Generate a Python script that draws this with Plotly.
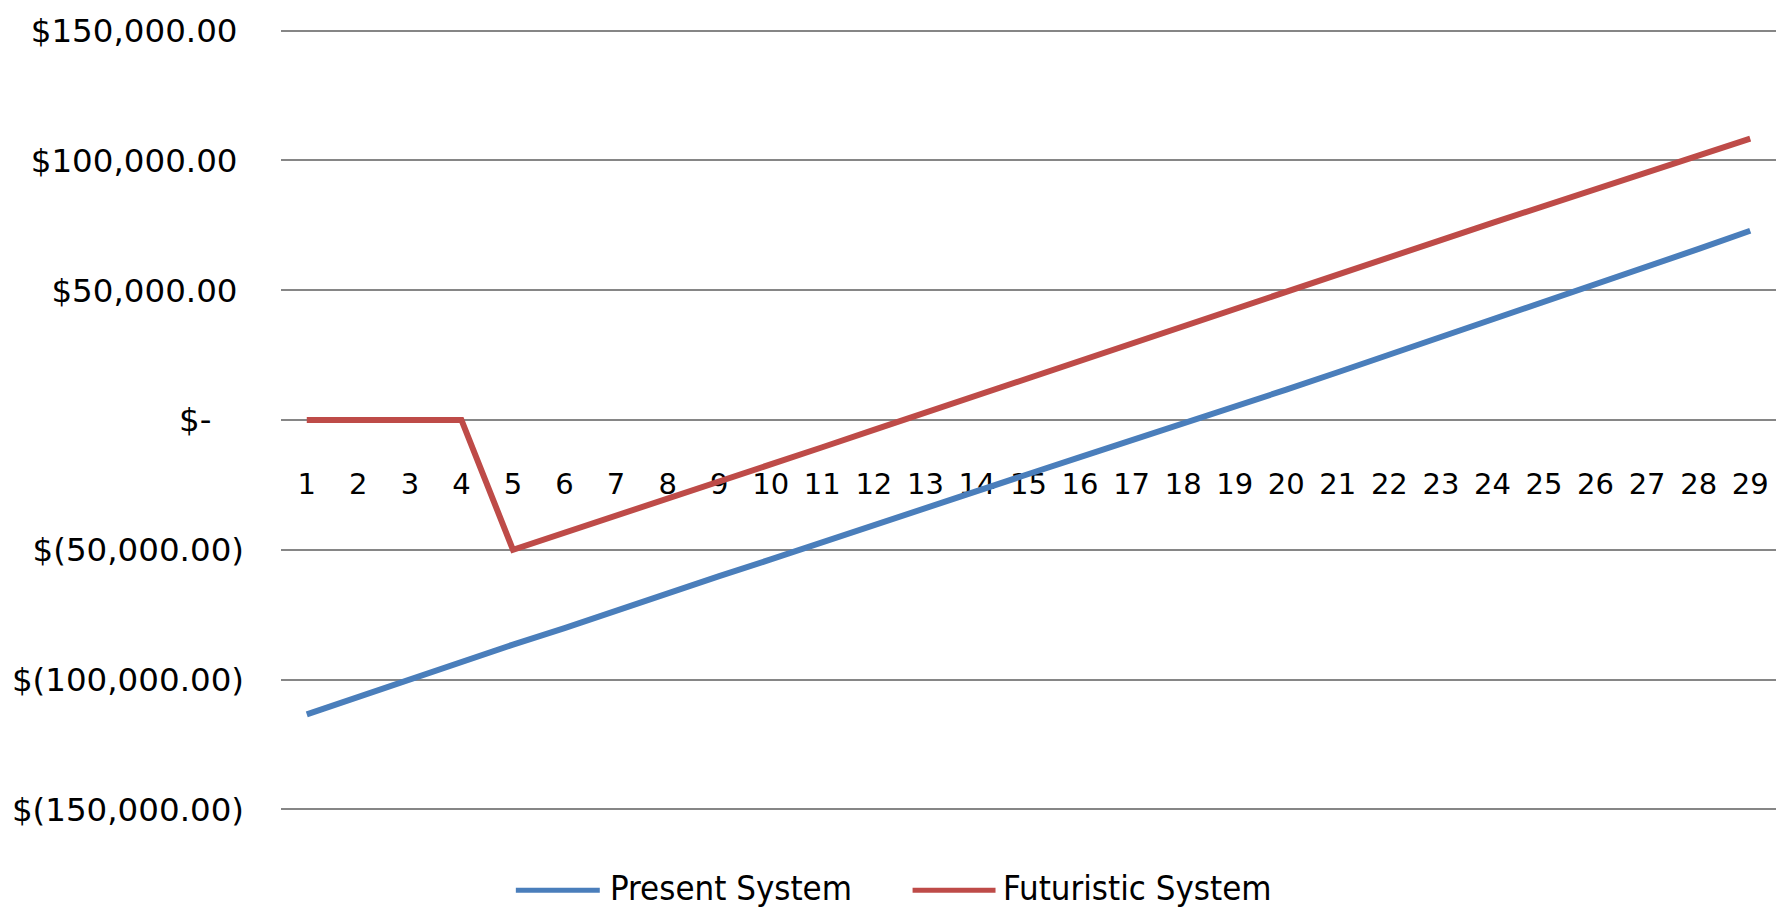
import plotly.graph_objects as go

# Year index along the category axis
years = list(range(1, 30))

# Cumulative cash position per year
present_system = [
    -113400, -106600, -100100, -93300, -86500, -80200, -73400, -66600, -60100, -53700,
    -47000, -40400, -33900, -27300, -20800, -14300, -7900, -1500, 5000, 11700,
    18400, 25100, 31800, 38600, 45400, 52200, 59000, 65900, 72900,
]
futuristic_system = [
    0, 0, 0, 0, -50000, -43500, -37000, -30300, -23700, -17200,
    -10500, -3800, 2900, 9500, 16200, 22900, 29600, 36200, 42900, 49500,
    56100, 62700, 69300, 75900, 82500, 89100, 95600, 102000, 108400,
]

# Value axis ticks in accounting format
y_ticks = [150000, 100000, 50000, 0, -50000, -100000, -150000]
y_tick_labels = [
    "$150,000.00\u2009", "$100,000.00\u2009", "$50,000.00\u2009", "$-\u2003",
    "$(50,000.00)", "$(100,000.00)", "$(150,000.00)",
]

series_names = ["Present System", "Futuristic System"]
BLUE = "#4A7EBB"
RED = "#BE4B48"
GRID = "#868686"
colors = [BLUE, RED]

# Plot area geometry (pixels)
W, H = 1791, 908
ML, MR, MT, MB = 280, 15, 21, 97
PW = W - ML - MR
PH = H - MT - MB


def px_x(px):
    return (px - ML) / PW


def px_y(py):
    return (H - MB - py) / PH


fig = go.Figure()
for name, values, color in zip(series_names, [present_system, futuristic_system], colors):
    fig.add_trace(go.Scatter(
        x=years, y=values, mode="lines", name=name,
        line=dict(color=color, width=6),
    ))

# Legend row below the plot: long line samples followed by the series name
legend_items = [(515, 599, 607), (912, 995, 1000)]
legend_y = px_y(891)
for (x0, x1, tx), name, color in zip(legend_items, series_names, colors):
    fig.add_shape(
        type="line", xref="paper", yref="paper",
        x0=px_x(x0), x1=px_x(x1), y0=legend_y, y1=legend_y,
        line=dict(color=color, width=5),
    )
    fig.add_annotation(
        xref="paper", yref="paper", x=px_x(tx), y=px_y(889),
        xanchor="left", yanchor="middle", showarrow=False, text=name,
        font=dict(family="Liberation Sans Narrow, DejaVu Sans Condensed, sans-serif",
                  size=34.5, color="black"),
    )

fig.update_layout(
    width=W, height=H,
    margin=dict(l=ML, r=MR, t=MT, b=MB),
    paper_bgcolor="white", plot_bgcolor="white",
    font=dict(family="DejaVu Sans", color="black"),
    showlegend=False,
    xaxis=dict(
        range=[0.5, 29.5], tickmode="array", tickvals=years, ticktext=[str(v) for v in years],
        anchor="free", position=0.5, showgrid=False, zeroline=False, showline=False,
        ticks="outside", ticklen=38, tickcolor="rgba(0,0,0,0)",
        tickfont=dict(family="DejaVu Sans", size=29, color="black"),
        layer="below traces",
    ),
    yaxis=dict(
        range=[-150600, 150600], tickmode="array", tickvals=y_ticks, ticktext=y_tick_labels,
        showgrid=True, gridcolor=GRID, gridwidth=2, zeroline=False, showline=False,
        ticks="", ticklabelstandoff=36,
        tickfont=dict(family="DejaVu Sans", size=32.5, color="black"),
    ),
)

fig.write_html("out.html")
